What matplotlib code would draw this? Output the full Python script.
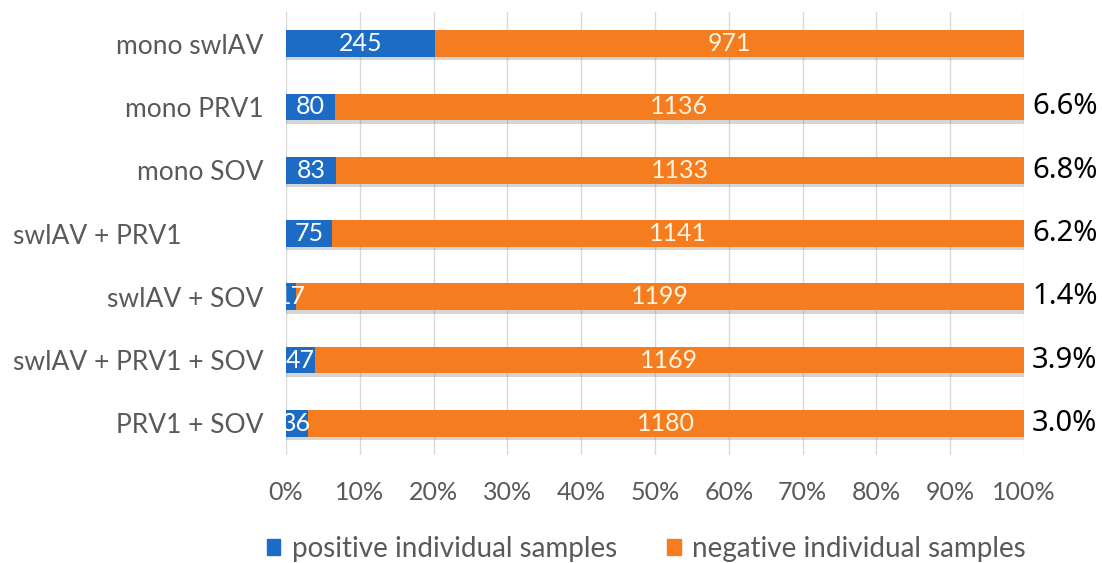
import matplotlib
matplotlib.use("Agg")
import matplotlib.pyplot as plt
import matplotlib.transforms as mtransforms
import matplotlib.patheffects as pe
from matplotlib.patches import Patch
import numpy as np

categories = ["mono swlAV", "mono PRV1", "mono SOV", "swlAV + PRV1",
              "swlAV + SOV", "swlAV + PRV1 + SOV", "PRV1 + SOV"]
positive = [245, 80, 83, 75, 17, 47, 36]
negative = [971, 1136, 1133, 1141, 1199, 1169, 1180]
pct_labels = ["", "6.6%", "6.8%", "6.2%", "1.4%", "3.9%", "3.0%"]
xticks = [0, 10, 20, 30, 40, 50, 60, 70, 80, 90, 100]

BLUE = "#1c6cc6"
ORANGE = "#f57d20"
GRAY = "#595959"

fig = plt.figure(figsize=(11.02, 5.63), dpi=100)
ax = fig.add_axes([286/1102, 1-455/563, (1024-286)/1102, (455-12)/563])

pos = np.array(positive, float)
neg = np.array(negative, float)
tot = pos + neg
pp = pos / tot * 100
npct = neg / tot * 100
y = np.arange(len(categories))
h = 0.42
shadow = [pe.SimplePatchShadow(offset=(0, -2.5), shadow_rgbFace="#888888", alpha=0.35), pe.Normal()]
b1 = ax.barh(y, pp, height=h, color=BLUE, zorder=3)
b2 = ax.barh(y, npct, left=pp, height=h, color=ORANGE, zorder=3)
for b in list(b1) + list(b2):
    b.set_path_effects(shadow)

for i in range(len(categories)):
    ax.text(pp[i]/2, y[i], str(positive[i]), ha="center", va="center",
            color="white", fontsize=18, family="Lato", zorder=5)
    ax.text(pp[i] + npct[i]/2, y[i], str(negative[i]), ha="center", va="center",
            color="#fff4e0", fontsize=18, family="Lato", zorder=5)
    if pct_labels[i]:
        ax.text(1.011, y[i], pct_labels[i], transform=ax.get_yaxis_transform(),
                ha="left", va="center", color="black", fontsize=21, family="Noto Sans")

ax.set_xlim(0, 100)
ax.set_ylim(len(categories)-0.5, -0.5)
ax.set_xticks(xticks)
ax.set_xticklabels([f"{t}%" for t in xticks], family="Lato", fontsize=18, color=GRAY)
ax.set_yticks(y)
ax.set_yticklabels(categories, family="Lato", fontsize=19, color=GRAY)
ax.tick_params(axis="both", length=0)
ax.tick_params(axis="x", pad=19)
ax.tick_params(axis="y", pad=16)
for s in ax.spines.values():
    s.set_visible(False)
ax.grid(axis="x", color="#d9d9d9", lw=1, zorder=0)
ax.set_axisbelow(True)

# shift the odd-placed label left like in the reference
lab = ax.get_yticklabels()[3]
lab.set_transform(lab.get_transform() + mtransforms.ScaledTranslation(-0.82, 0, fig.dpi_scale_trans))

handles = [Patch(color=BLUE, label="positive individual samples"),
           Patch(color=ORANGE, label="negative individual samples")]
leg = fig.legend(handles=handles, loc="center", bbox_to_anchor=(646/1102, 1-549/563),
                 ncol=2, frameon=False, handlelength=0.5, handleheight=0.5,
                 handletextpad=0.4, columnspacing=1.8,
                 prop={"family": "Lato", "size": 20})
for t in leg.get_texts():
    t.set_color(GRAY)

fig.savefig("out.png", dpi=100)
